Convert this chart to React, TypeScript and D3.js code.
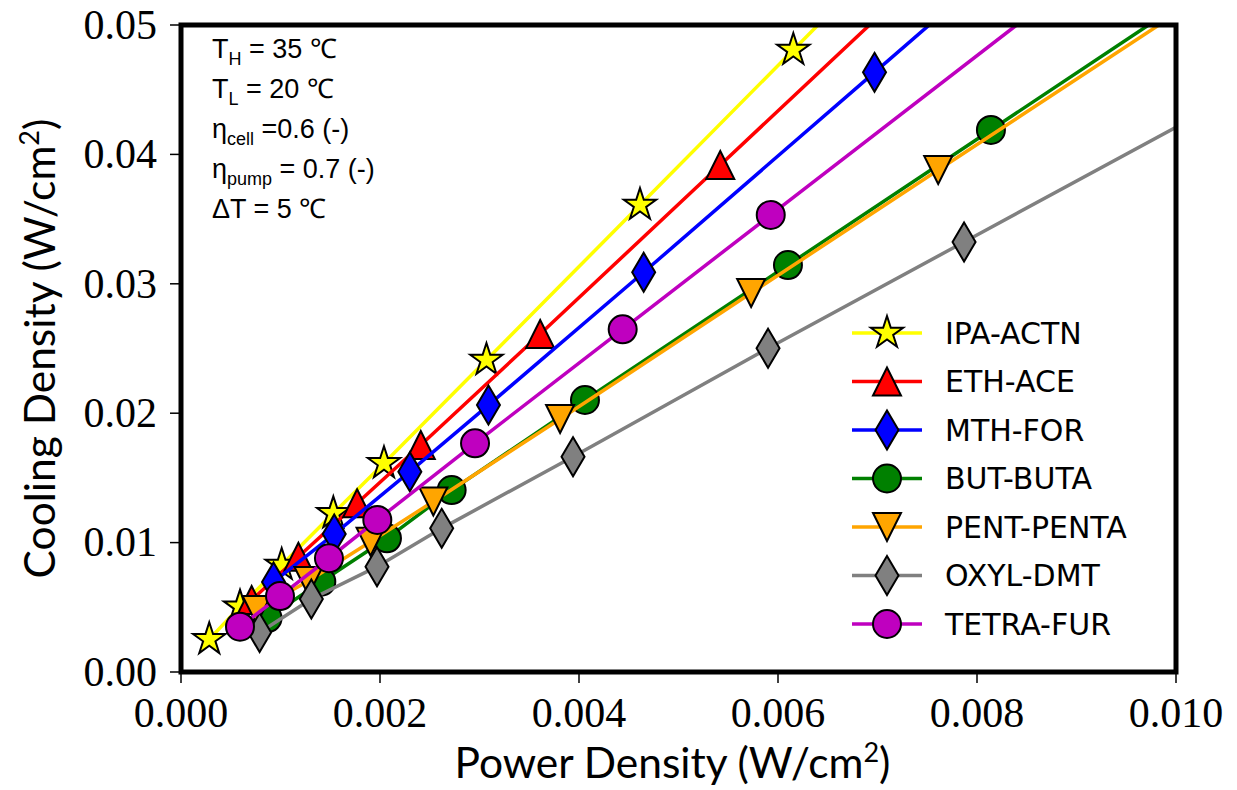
import React from 'react';
import * as d3 from 'd3';

const width = 1237;
const height = 790;
const margin = { top: 25, right: 61, bottom: 118, left: 181 };

const seriesNames = ['IPA-ACTN', 'ETH-ACE', 'MTH-FOR', 'BUT-BUTA', 'PENT-PENTA', 'OXYL-DMT', 'TETRA-FUR'];
const seriesColors = ['#ffff00', '#ff0000', '#0000ff', '#008000', '#ffa500', '#808080', '#bf00bf'];
const seriesMarkers = ['star', 'triUp', 'diamond', 'circle', 'triDown', 'diamond', 'circle'];

// power density (x) and cooling density (y), W/cm2
const ipaX = [0.000284, 0.000593, 0.001012, 0.001531, 0.00204, 0.00307, 0.004613, 0.006154];
const ipaY = [0.00253, 0.00505, 0.00827, 0.01226, 0.01613, 0.02411, 0.03609, 0.04807];
const ethX = [0.00071, 0.00118, 0.00177, 0.00241, 0.00361, 0.00542];
const ethY = [0.00556, 0.00891, 0.01304, 0.01754, 0.02612, 0.03918];
const mthX = [0.00093, 0.00154, 0.0023, 0.00309, 0.00465, 0.00697];
const mthY = [0.00696, 0.01066, 0.01548, 0.02063, 0.03089, 0.04634];
const butX = [0.00087, 0.00141, 0.00207, 0.00272, 0.00406, 0.0061, 0.00814];
const butY = [0.00417, 0.00698, 0.01033, 0.01406, 0.02102, 0.03145, 0.04189];
const pentX = [0.00076, 0.001281, 0.001905, 0.002536, 0.00381, 0.00573, 0.00761];
const pentY = [0.00479, 0.00703, 0.01007, 0.01318, 0.01955, 0.02929, 0.03879];
const oxylX = [0.00079, 0.00131, 0.00197, 0.00262, 0.00394, 0.0059, 0.00787];
const oxylY = [0.00305, 0.00564, 0.00814, 0.0111, 0.01664, 0.02502, 0.03323];
const tetraX = [0.000593, 0.000995, 0.001487, 0.001973, 0.002955, 0.004439, 0.005927];
const tetraY = [0.0035, 0.00587, 0.00879, 0.01175, 0.01767, 0.02648, 0.03532];

const xTicks = [0, 0.002, 0.004, 0.006, 0.008, 0.01];
const yTicks = [0, 0.01, 0.02, 0.03, 0.04, 0.05];

const allX = [ipaX, ethX, mthX, butX, pentX, oxylX, tetraX];
const allY = [ipaY, ethY, mthY, butY, pentY, oxylY, tetraY];

const markerPath = (shape: string) => {
  if (shape === 'star') {
    const r = 17, ri = r * 0.382;
    const pts = d3.range(10).map(i => {
      const a = (i * Math.PI) / 5 - Math.PI / 2;
      const rr = i % 2 === 0 ? r : ri;
      return [rr * Math.cos(a), rr * Math.sin(a)];
    });
    return 'M' + pts.map(p => p.join(',')).join('L') + 'Z';
  }
  if (shape === 'triUp') return 'M0,-14L-14,14L14,14Z';
  if (shape === 'triDown') return 'M0,14L-14,-14L14,-14Z';
  if (shape === 'diamond') return 'M0,-19.5L11.5,0L0,19.5L-11.5,0Z';
  return d3.arc()({ innerRadius: 0, outerRadius: 14, startAngle: 0, endAngle: 2 * Math.PI }) as string;
};

const Marker = ({ shape, color, x, y }) => (
  <path d={markerPath(shape)} transform={`translate(${x},${y})`} fill={color} stroke="#000" strokeWidth={2} />
);

const App = () => {
  const innerWidth = width - margin.left - margin.right;
  const innerHeight = height - margin.top - margin.bottom;

  const xScale = d3.scaleLinear().domain([0, 0.01]).range([0, innerWidth]);
  const yScale = d3.scaleLinear().domain([0, 0.05]).range([innerHeight, 0]);

  // data points plus the last segment extended to the axis end
  const linePoints = (xs: number[], ys: number[]) => {
    const pts = xs.map((x, i) => [x, ys[i]]);
    const n = pts.length;
    const slope = (ys[n - 1] - ys[n - 2]) / (xs[n - 1] - xs[n - 2]);
    const xEnd = xScale.domain()[1] * 1.05;
    pts.push([xEnd, ys[n - 1] + slope * (xEnd - xs[n - 1])]);
    return pts;
  };
  const lineGen = d3.line<number[]>().x(d => xScale(d[0])).y(d => yScale(d[1]));

  const sansLabel = 'Lato, "Open Sans", sans-serif';
  const serifTick = '"Liberation Serif", "DejaVu Serif", serif';
  const annoFont = '"Liberation Sans", Arial, sans-serif';

  const annoRows = [
    ['T', 'H', ' = 35 ℃'],
    ['T', 'L', ' = 20 ℃'],
    ['η', 'cell', ' =0.6 (-)'],
    ['η', 'pump', ' = 0.7 (-)'],
    ['ΔT = 5 ℃', '', ''],
  ];

  return (
    <svg width={width} height={height} style={{ position: 'absolute', left: 0, top: 0, background: '#fff' }}>
      <defs>
        <clipPath id="plot-clip">
          <rect x={0} y={0} width={innerWidth} height={innerHeight} />
        </clipPath>
      </defs>
      <g transform={`translate(${margin.left},${margin.top})`}>
        <g clipPath="url(#plot-clip)">
          {seriesNames.map((name, i) => (
            <g key={name}>
              <path d={lineGen(linePoints(allX[i], allY[i])) as string} fill="none" stroke={seriesColors[i]} strokeWidth={3.5} />
              {allX[i].map((x, j) => (
                <Marker key={j} shape={seriesMarkers[i]} color={seriesColors[i]} x={xScale(x)} y={yScale(allY[i][j])} />
              ))}
            </g>
          ))}
        </g>

        <rect x={0} y={0} width={innerWidth} height={innerHeight} fill="none" stroke="#000" strokeWidth={5} />

        {xTicks.map(t => (
          <g key={t} transform={`translate(${xScale(t)},${innerHeight})`}>
            <line y1={2} y2={11} stroke="#000" strokeWidth={1.5} />
            <text y={55} textAnchor="middle" fontFamily={serifTick} fontSize={42}>
              {d3.format('.3f')(t)}
            </text>
          </g>
        ))}
        {yTicks.map(t => (
          <g key={t} transform={`translate(0,${yScale(t)})`}>
            <line x1={-2} x2={-11} stroke="#000" strokeWidth={1.5} />
            <text x={-24} dy="0.33em" textAnchor="end" fontFamily={serifTick} fontSize={42}>
              {d3.format('.2f')(t)}
            </text>
          </g>
        ))}

        <text x={innerWidth / 2 - 6} y={innerHeight + 106} textAnchor="middle" fontFamily={sansLabel} fontSize={42.5}>
          Power Density (W/cm<tspan dy={-16} fontSize={27}>2</tspan><tspan dy={16}>)</tspan>
        </text>
        <text
          transform={`translate(${-126},${innerHeight / 2}) rotate(-90)`}
          textAnchor="middle"
          fontFamily={sansLabel}
          fontSize={42.5}
        >
          Cooling Density (W/cm<tspan dy={-16} fontSize={27}>2</tspan><tspan dy={16}>)</tspan>
        </text>

        {annoRows.map((r, i) => (
          <text key={i} x={31} y={33 + i * 40} fontFamily={annoFont} fontSize={27}>
            {r[0]}
            {r[1] && (
              <tspan dy={7} fontSize={18}>
                {r[1]}
              </tspan>
            )}
            {r[2] && <tspan dy={r[1] ? -7 : 0}>{r[2]}</tspan>}
          </text>
        ))}

        {seriesNames.map((name, i) => {
          const ly = 308 + i * 48.5;
          return (
            <g key={name} transform={`translate(${671},${ly})`}>
              <line x1={0} x2={70} stroke={seriesColors[i]} strokeWidth={3.5} />
              <Marker shape={seriesMarkers[i]} color={seriesColors[i]} x={35} y={0} />
              <text x={93} dy="0.36em" fontFamily='"DejaVu Sans", sans-serif' fontSize={30}>
                {name}
              </text>
            </g>
          );
        })}
      </g>
    </svg>
  );
};

export default App;
